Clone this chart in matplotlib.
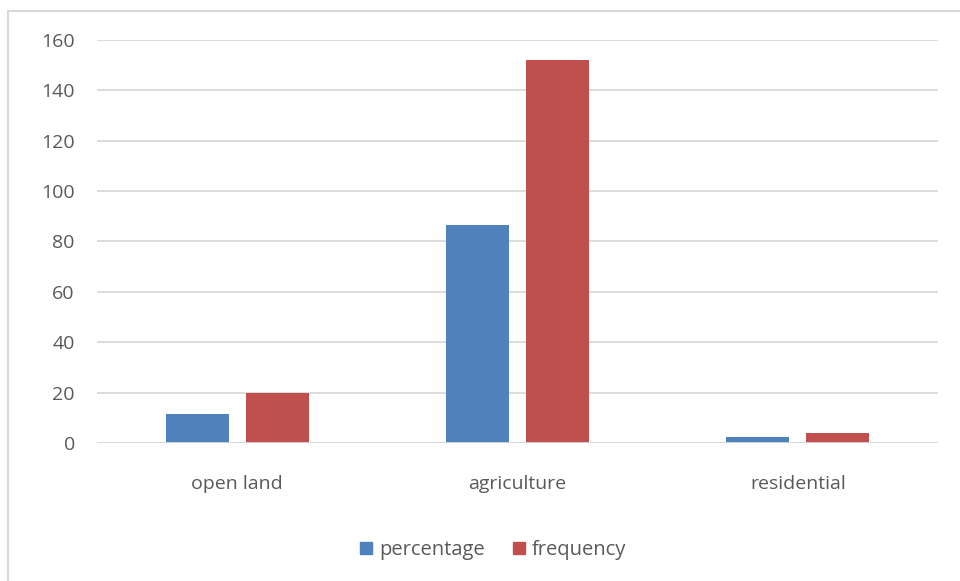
import numpy as np
import matplotlib
matplotlib.use('Agg')
import matplotlib.pyplot as plt
from matplotlib.patches import Rectangle, Patch

plt.rcParams['font.family'] = ['Open Sans', 'DejaVu Sans']

categories = ['open land', 'agriculture', 'residential']
percentage = [11.4, 86.4, 2.3]
frequency = [20, 152, 4]

BLUE = '#4F81BD'
RED = '#C0504D'
GRID = '#D9D9D9'
TEXT = '#595959'

fig = plt.figure(figsize=(9.6, 5.81), dpi=100)
ax = fig.add_axes([97 / 960, 1 - 443 / 581, (938 - 97) / 960, (443 - 40) / 581])

x = np.arange(len(categories))
w = 0.225
off = 0.143
ax.bar(x - off, percentage, w, color=BLUE, label='percentage', zorder=3)
ax.bar(x + off, frequency, w, color=RED, label='frequency', zorder=3)

ax.set_xlim(-0.5, len(categories) - 0.5)
ax.set_ylim(0, 160)
ax.set_yticks(np.arange(0, 161, 20))
ax.set_xticks(x)
ax.set_xticklabels(categories)
ax.yaxis.grid(True, color=GRID, lw=1.3, zorder=0)
for s in ax.spines.values():
    s.set_visible(False)
ax.axhline(0, color=GRID, lw=1.3, zorder=4)
ax.tick_params(axis='both', length=0, labelsize=14, colors=TEXT)
ax.tick_params(axis='y', pad=16)
ax.tick_params(axis='x', pad=23)

handles = [Patch(color=BLUE, label='percentage'), Patch(color=RED, label='frequency')]
fig.legend(handles=handles, loc='center', bbox_to_anchor=(493 / 960, 1 - 550 / 581),
           ncol=2, frameon=False, fontsize=14.5, labelcolor=TEXT,
           handlelength=0.6, handleheight=0.6, handletextpad=0.35, columnspacing=1.4)

# chart border
fig.patches.append(Rectangle((8 / 960, -0.05), 1.1, 1 - 11 / 581 + 0.05,
                             transform=fig.transFigure, fill=False,
                             edgecolor=GRID, lw=1.5))

fig.savefig('out.png', dpi=100)
